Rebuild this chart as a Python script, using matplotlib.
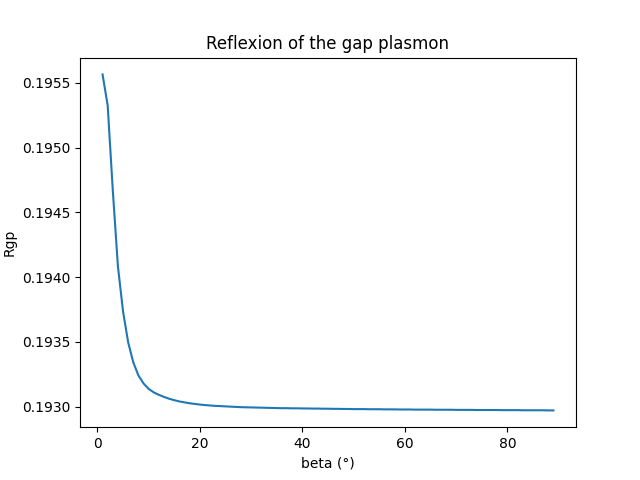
import matplotlib
matplotlib.use("Agg")
import matplotlib.pyplot as plt

beta = list(range(1, 90))
rgp = [
    0.195565, 0.195326, 0.194670, 0.194083, 0.193735, 0.193496, 0.193342, 0.193241, 0.193179, 0.193137,
    0.193110, 0.193091, 0.193075, 0.193061, 0.193050, 0.193040, 0.193033, 0.193026, 0.193021, 0.193016,
    0.193012, 0.193009, 0.193006, 0.193004, 0.193002, 0.193000, 0.192998, 0.192996, 0.192995, 0.192994,
    0.192993, 0.192992, 0.192991, 0.192990, 0.192989, 0.192988, 0.192988, 0.192987, 0.192987, 0.192986,
    0.192986, 0.192985, 0.192985, 0.192984, 0.192984, 0.192983, 0.192983, 0.192982, 0.192982, 0.192981,
    0.192981, 0.192981, 0.192980, 0.192980, 0.192980, 0.192979, 0.192979, 0.192979, 0.192978, 0.192978,
    0.192978, 0.192977, 0.192977, 0.192977, 0.192977, 0.192976, 0.192976, 0.192976, 0.192976, 0.192975,
    0.192975, 0.192975, 0.192975, 0.192974, 0.192974, 0.192974, 0.192974, 0.192974, 0.192973, 0.192973,
    0.192973, 0.192973, 0.192972, 0.192972, 0.192972, 0.192972, 0.192972, 0.192971, 0.192971,
]

fig, ax = plt.subplots(figsize=(6.4, 4.8), dpi=100)
ax.plot(beta, rgp)
ax.set_title("Reflexion of the gap plasmon")
ax.set_xlabel("beta (°)")
ax.set_ylabel("Rgp")
fig.savefig("out.png")
